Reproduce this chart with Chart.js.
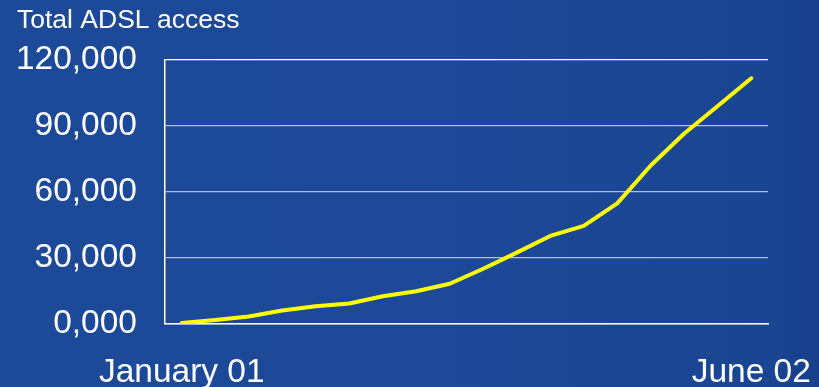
<!DOCTYPE html>
<html>
<head>
<meta charset="utf-8">
<script src="https://cdn.jsdelivr.net/npm/chart.js@4"></script>
<style>
  html, body { margin: 0; padding: 0; }
  body {
    width: 819px; height: 387px; overflow: hidden;
    background: linear-gradient(to right, #1d4a98 0%, #1c4897 60%, #1a4592 94%, #173f8a 100%);
  }
  #wrap { position: relative; width: 819px; height: 387px; }
</style>
</head>
<body>
<div id="wrap"><canvas id="adslChart"></canvas></div>
<script>
const months = [
  "January 01", "February 01", "March 01", "April 01", "May 01", "June 01",
  "July 01", "August 01", "September 01", "October 01", "November 01", "December 01",
  "January 02", "February 02", "March 02", "April 02", "May 02", "June 02"
];
const adslAccess = [
  500, 1800, 3400, 6100, 8100, 9300,
  12600, 14900, 18300, 25100, 32400, 40000,
  44600, 54800, 72000, 86500, 99000, 111600
];
const yTicks = [0, 30000, 60000, 90000, 120000];

const fontFamily = "'Liberation Sans', Arial, sans-serif";

function formatThousands(v) {
  if (v === 0) return "0,000";
  return v.toLocaleString("en-US");
}

new Chart(document.getElementById("adslChart"), {
  type: "line",
  data: {
    labels: months,
    datasets: [
      {
        label: "Total ADSL access",
        data: adslAccess,
        borderColor: "#ffff00",
        borderWidth: 4,
        borderCapStyle: "round",
        borderJoinStyle: "round",
        pointRadius: 0,
        tension: 0,
        fill: false
      }
    ]
  },
  options: {
    responsive: true,
    maintainAspectRatio: false,
    animation: false,
    layout: { padding: { left: 17, right: 51, top: 0, bottom: 0 } },
    plugins: {
      legend: { display: false },
      tooltip: { enabled: false },
      title: {
        display: true,
        text: "Total ADSL access",
        align: "start",
        color: "#ffffff",
        font: { family: fontFamily, size: 26.5, weight: "normal" },
        padding: { top: 5, bottom: 23 }
      }
    },
    scales: {
      x: {
        offset: true,
        grid: { display: false },
        border: { display: true, color: "#ffffff", width: 1.5 },
        ticks: {
          color: "#ffffff",
          font: { family: fontFamily, size: 33.5 },
          autoSkip: false,
          maxRotation: 0,
          padding: 21,
          callback: function (value, index) {
            return index === 0 || index === months.length - 1 ? months[index] : "";
          }
        },
        afterFit: function (scale) {
          scale.height = 63;
          scale.paddingLeft = 0;
          scale.paddingRight = 0;
        }
      },
      y: {
        min: 0,
        max: 120000,
        afterBuildTicks: function (scale) {
          scale.ticks = yTicks.map((v) => ({ value: v }));
        },
        grid: {
          drawTicks: false,
          lineWidth: 1.2,
          color: function (ctx) {
            return ctx.tick && ctx.tick.value === 120000 ? "#ffffff" : "rgba(205,212,232,0.85)";
          }
        },
        border: { display: true, color: "#ffffff", width: 1.5 },
        ticks: {
          color: "#ffffff",
          font: { family: fontFamily, size: 33.5 },
          padding: 28,
          callback: function (value) { return formatThousands(value); }
        },
        afterFit: function (scale) { scale.width = 148; }
      }
    }
  }
});
</script>
</body>
</html>
